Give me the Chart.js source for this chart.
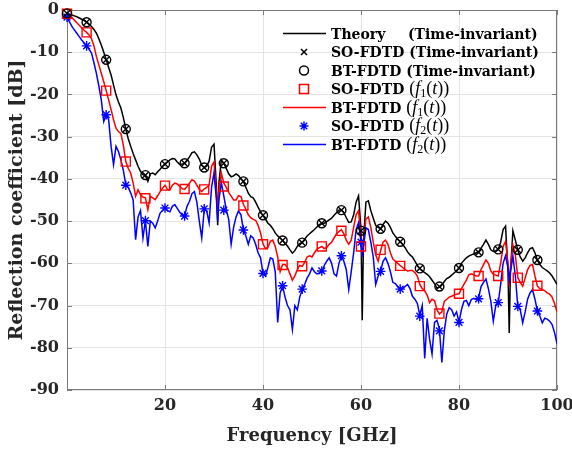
<!DOCTYPE html>
<html>
<head>
<meta charset="utf-8">
<script src="https://cdn.jsdelivr.net/npm/chart.js@4.4.1/dist/chart.umd.min.js"></script>
<style>
  html, body { margin: 0; padding: 0; background: #fff; }
</style>
</head>
<body>
<canvas id="chart" width="572" height="455"></canvas>
<script>
// frequency grid [GHz], extra points around the narrow notches
const freq = [
  0,0.5,1,1.5,2,2.5,3,3.5,4,4.5,5,5.5,6,6.5,7,7.5,8,8.5,9,9.5,
  10,10.5,11,11.5,12,12.5,13,13.5,14,14.5,15,15.5,16,16.5,17,17.5,18,18.5,19,19.5,
  20,20.5,21,21.5,22,22.5,23,23.5,24,24.5,25,25.5,26,26.5,27,27.5,28,28.5,29,29.5,
  30,30.5,30.75,31,31.5,32,32.5,33,33.5,34,34.5,35,35.5,36,36.5,37,37.5,38,38.5,39,39.5,
  40,40.5,41,41.5,42,42.5,43,43.5,44,44.5,45,45.5,46,46.5,47,47.5,48,48.5,49,49.5,
  50,50.5,51,51.5,52,52.5,53,53.5,54,54.5,55,55.5,56,56.5,57,57.5,58,58.5,59,59.5,
  60,60.25,60.5,61,61.5,62,62.5,63,63.5,64,64.5,65,65.5,66,66.5,67,67.5,68,68.5,69,69.5,
  70,70.5,71,71.5,72,72.5,73,73.5,74,74.5,75,75.5,76,76.5,77,77.5,78,78.5,79,79.5,
  80,80.5,81,81.5,82,82.5,83,83.5,84,84.5,85,85.5,86,86.5,87,87.5,88,88.5,89,89.5,
  90,90.25,90.5,91,91.5,92,92.5,93,93.5,94,94.5,95,95.5,96,96.5,97,97.5,98,98.5,99,99.5,
  100
];

// Theory (time-invariant) [dB]
const theory = [
  -0.8,-1.0,-1.2,-1.4,-1.6,-1.9,-2.2,-2.5,-2.8,-3.3,-3.9,-4.6,-5.5,-6.8,-8.3,-10,-11.8,-13.6,-15.4,-17.8,
  -20.1,-21.8,-23.2,-25.5,-28.2,-30.5,-32.3,-34,-35.5,-37,-38.2,-39,-39.3,-40.6,-38.8,-38.6,-39,-38.3,-37.7,-37,
  -36.5,-36,-35.5,-35.2,-35.3,-36,-36.6,-36.5,-36.3,-35.6,-34.8,-33.8,-33.6,-34.3,-35.3,-36.8,-37.3,-37,-35.8,-32.5,
  -31.8,-42,-51,-41,-35.5,-36.3,-37.5,-38.8,-39.5,-39.3,-38.8,-39.2,-40,-40.6,-42,-43.4,-44.2,-44.5,-45.5,-46.7,-47.8,
  -48.7,-49.5,-50.5,-51,-51.8,-52.8,-53.5,-54,-54.6,-55.3,-55.9,-56.8,-57.6,-57,-56,-55.3,-55,-54.3,-53.5,-53,
  -52.5,-52,-51.4,-50.8,-50.6,-50.5,-50.1,-49.7,-49.3,-48.6,-48,-47.4,-47.3,-48,-49.2,-50.3,-50.2,-48.5,-45.5,-44,
  -52,-73.5,-55,-45.5,-45.2,-47.5,-49.3,-51,-51.5,-51.8,-50.8,-50,-50.5,-51.5,-52.8,-53.6,-54.3,-54.9,-55.5,-56.3,-57.3,
  -58,-58.5,-59.5,-60.5,-61.3,-61.8,-62.2,-62.6,-63.2,-64,-64.8,-65.8,-65.7,-65.2,-64.3,-63.6,-63.3,-62.8,-62.3,-61.8,
  -61.2,-60,-59.3,-58.7,-58.3,-58,-57.8,-57.5,-57.3,-56.4,-55.5,-54.5,-55.5,-56.8,-57.2,-57,-56.7,-55,-52,-51.2,
  -62,-76.5,-62,-52.3,-54.5,-56.9,-58.5,-59.5,-58.7,-57.5,-56.5,-56.3,-57.5,-59.3,-60.3,-61,-61.4,-61.8,-62.3,-63,-64,
  -65
];

// BT-FDTD f1(t) [dB]
const btF1 = [
  -0.9,-1.3,-1.8,-2.4,-3,-3.6,-4.2,-4.8,-5.3,-5.9,-6.8,-8.5,-11,-13,-15,-17,-19.1,-21.3,-23.6,-26,
  -28,-28.8,-29.3,-32,-35.9,-37.5,-38.6,-41,-44.1,-42.6,-43.7,-44.3,-44.5,-47.3,-44.1,-44.5,-44.9,-44,-43,-42.2,
  -41.5,-42.5,-42.6,-41.5,-41,-41.2,-41.8,-42.3,-42.5,-41.8,-41,-40.2,-40.5,-41.5,-42.5,-43,-42.4,-42,-41.5,-37,
  -36,-44,-48,-43,-38.6,-41,-42,-43.2,-44.1,-45,-45,-44,-44.2,-46,-47.2,-48.5,-49.2,-49.6,-49.8,-51,-52.8,
  -55.4,-56.5,-56.2,-54.8,-54.5,-56,-58.5,-62,-60.3,-60.3,-61,-62.5,-64,-63,-61.5,-60.5,-60.7,-59.8,-58.5,-58.2,
  -58.5,-57.5,-56.7,-56.3,-56,-56.5,-56.3,-55.5,-55,-54,-53,-52.5,-52,-53,-54.5,-55.5,-54.5,-51.5,-48.5,-47.5,
  -54,-58.5,-55,-49.5,-49,-51.5,-55,-58,-59.5,-57,-55,-54.5,-55.5,-57.5,-59,-59.5,-60,-60.5,-61,-61.5,-61.8,
  -61.7,-61.7,-62.2,-63,-65,-66,-66.5,-67.5,-69.3,-68.5,-68.8,-71,-72,-71.5,-69,-68.5,-68,-67.8,-67.5,-67.3,
  -67.2,-66,-65,-64,-62.7,-62.5,-62.7,-63,-63,-61.5,-60.3,-59.2,-60,-61.8,-62.6,-62.8,-63,-60,-56,-54.8,
  -60,-65.4,-61,-55.6,-58,-63.4,-64.5,-65.4,-63.5,-61.5,-60.5,-60.3,-63,-65.4,-66,-66.2,-66.5,-67,-67.3,-68,-69.5,
  -71.5
];

// BT-FDTD f2(t) [dB]
const btF2 = [
  -1.7,-2.8,-3.9,-4.7,-5.5,-6.3,-7.1,-7.8,-8.5,-9.3,-10.2,-12.5,-15,-18,-21.3,-26.4,-24.8,-26,-32.3,-36.6,
  -32.3,-33.5,-35.5,-38,-41.4,-42,-43.3,-45,-54.4,-49,-47.5,-54,-49.9,-56,-50,-50.5,-51.6,-50,-48.1,-47.5,
  -46.9,-47.5,-47.8,-46.5,-46.1,-47,-47.9,-48.5,-48.7,-46.5,-45.3,-43.5,-43,-45.5,-50,-54,-47.3,-47.5,-50.4,-42,
  -38.6,-45,-50,-45,-40.9,-44,-47.3,-49.6,-55.5,-51.5,-49,-47.6,-48.5,-52,-53.5,-55.5,-53.5,-54,-55.5,-57.5,-58.7,
  -62.4,-63,-61,-58.7,-59,-62,-74,-67,-65.4,-68,-70,-71,-75.7,-70,-71,-68,-66.2,-65,-63.5,-62.5,
  -61.1,-62,-62.5,-62.3,-62.1,-60.5,-59.5,-58.7,-60,-62.5,-63,-60,-58.3,-59.5,-61.5,-66.2,-62,-57.5,-52,-50.4,
  -55,-58.5,-56,-51.6,-52,-55,-58.5,-65,-63,-61.9,-59.5,-58.7,-60,-62,-64.5,-64.8,-65.5,-66.2,-66,-65.5,-65,
  -66,-67.8,-68.5,-69.5,-72.3,-70,-82.5,-73,-78,-81.5,-74,-73.5,-75.5,-83.5,-76,-72,-70.5,-71,-72.5,-71.5,
  -73.9,-71,-69,-68.8,-70,-68.6,-68.3,-68.5,-68.2,-65.5,-64.5,-63.7,-66,-69,-73.7,-70,-69.4,-65,-60,-58.2,
  -61,-64,-62,-58.3,-63,-70.3,-71,-74.1,-71.5,-68.5,-67,-66.2,-68.5,-71.3,-72.5,-74.1,-73,-73.2,-73.7,-74.5,-76.4,
  -79
];

// marker samples (every 4 GHz)
const markerFreq = [0,4,8,12,16,20,24,28,32,36,40,44,48,52,56,60,64,68,72,76,80,84,88,92,96];
const soInvariant = [-0.8,-2.9,-11.8,-28.2,-39.1,-36.5,-36.3,-37.3,-36.3,-40.6,-48.6,-54.6,-55.1,-50.5,-47.4,-52.3,-51.8,-54.9,-61.2,-65.5,-61.1,-57.4,-56.7,-56.8,-59.2];
const btInvariant = [-0.8,-2.9,-11.8,-28.2,-39.1,-36.5,-36.3,-37.3,-36.3,-40.6,-48.6,-54.6,-55.1,-50.5,-47.4,-52.3,-51.8,-54.9,-61.2,-65.5,-61.1,-57.4,-56.7,-56.8,-59.2];
const soF1 = [-0.9,-5.3,-19.1,-35.9,-44.6,-41.6,-42.4,-42.5,-41.8,-46.3,-55.5,-60.4,-60.7,-56.0,-52.3,-56.0,-56.8,-60.6,-65.4,-71.9,-67.2,-63.0,-63.0,-63.4,-65.3];
const soF2 = [-1.7,-8.5,-24.8,-41.5,-49.9,-46.9,-48.8,-47.1,-47.4,-52.1,-62.4,-65.3,-66.1,-61.8,-58.2,-55.0,-61.9,-66.1,-72.5,-76.0,-74.0,-68.4,-69.3,-70.2,-71.3];

const xTickValues = [20, 40, 60, 80, 100];
const yTickValues = [0, -10, -20, -30, -40, -50, -60, -70, -80, -90];

const pts = (xs, ys) => xs.map((x, i) => ({ x: x, y: ys[i] }));

const BLACK = '#000000', RED = '#ff0000', BLUE = '#0000ff';
const tickFont = { family: '"DejaVu Serif"', size: 16, weight: 'bold' };

// axes box with inward ticks (drawn under the data, like MATLAB)
const framePlugin = {
  id: 'frame',
  beforeDatasetsDraw(chart) {
    const { ctx, chartArea: a, scales: { x, y } } = chart;
    ctx.save();
    ctx.strokeStyle = '#7a7a7a';
    ctx.lineWidth = 1;
    ctx.strokeRect(a.left + 0.5, a.top + 0.5, a.right - a.left - 1, a.bottom - a.top - 1);
    ctx.beginPath();
    xTickValues.forEach(v => {
      const px = Math.round(x.getPixelForValue(v)) + 0.5;
      ctx.moveTo(px, a.bottom); ctx.lineTo(px, a.bottom - 5);
      ctx.moveTo(px, a.top); ctx.lineTo(px, a.top + 5);
    });
    yTickValues.forEach(v => {
      const py = Math.round(y.getPixelForValue(v)) + 0.5;
      ctx.moveTo(a.left, py); ctx.lineTo(a.left + 5, py);
      ctx.moveTo(a.right, py); ctx.lineTo(a.right - 5, py);
    });
    ctx.stroke();
    ctx.restore();
  }
};

// legend with mixed bold / math-italic text
const bold = 'bold 14px "DejaVu Serif"';
const rom = '18px "Liberation Serif"';
const ital = 'italic 18px "Liberation Serif"';
const sub = '12px "Liberation Serif"';
const mathPart = n => [
  { t: '(', f: rom }, { t: 'f', f: ital }, { t: String(n), f: sub, dy: 3 },
  { t: '(', f: rom }, { t: 't', f: ital }, { t: '))', f: rom }
];
const legendItems = [
  { sym: 'line', color: BLACK, parts: [{ t: 'Theory', f: bold }], extra: '(Time-invariant)' },
  { sym: 'cross', color: BLACK, parts: [{ t: 'SO-FDTD (Time-invariant)', f: bold }] },
  { sym: 'circle', color: BLACK, parts: [{ t: 'BT-FDTD (Time-invariant)', f: bold }] },
  { sym: 'square', color: RED, parts: [{ t: 'SO-FDTD ', f: bold }].concat(mathPart(1)) },
  { sym: 'line', color: RED, parts: [{ t: 'BT-FDTD ', f: bold }].concat(mathPart(1)) },
  { sym: 'star', color: BLUE, parts: [{ t: 'SO-FDTD ', f: bold }].concat(mathPart(2)) },
  { sym: 'line', color: BLUE, parts: [{ t: 'BT-FDTD ', f: bold }].concat(mathPart(2)) }
];

const legendPlugin = {
  id: 'fancyLegend',
  afterDraw(chart) {
    const ctx = chart.ctx;
    const symX = 304, textX = 331, y0 = 33.5, dy = 18.5;
    ctx.save();
    legendItems.forEach((it, i) => {
      const y = y0 + i * dy;
      ctx.strokeStyle = it.color;
      ctx.lineWidth = 1.5;
      ctx.beginPath();
      if (it.sym === 'line') {
        ctx.moveTo(283, y); ctx.lineTo(326, y);
      } else if (it.sym === 'cross') {
        ctx.moveTo(symX - 3, y - 3); ctx.lineTo(symX + 3, y + 3);
        ctx.moveTo(symX - 3, y + 3); ctx.lineTo(symX + 3, y - 3);
      } else if (it.sym === 'circle') {
        ctx.arc(symX, y, 4.5, 0, Math.PI * 2);
      } else if (it.sym === 'square') {
        ctx.rect(symX - 4.5, y - 4.5, 9, 9);
      } else if (it.sym === 'star') {
        for (let k = 0; k < 4; k++) {
          const ang = k * Math.PI / 4;
          ctx.moveTo(symX - 4.5 * Math.cos(ang), y - 4.5 * Math.sin(ang));
          ctx.lineTo(symX + 4.5 * Math.cos(ang), y + 4.5 * Math.sin(ang));
        }
      }
      ctx.stroke();

      ctx.fillStyle = '#000';
      ctx.textBaseline = 'alphabetic';
      let x = textX;
      it.parts.forEach(p => {
        ctx.font = p.f;
        ctx.fillText(p.t, x, y + 5 + (p.dy || 0));
        x += ctx.measureText(p.t).width;
      });
      if (it.extra) {
        ctx.font = bold;
        ctx.fillText(it.extra, 408, y + 5);
      }
    });
    ctx.restore();
  }
};

new Chart(document.getElementById('chart'), {
  type: 'line',
  data: {
    datasets: [
      { label: 'SO-FDTD (Time-invariant)', data: pts(markerFreq, soInvariant), showLine: false,
        pointStyle: 'crossRot', pointRadius: 4.5, borderColor: BLACK, borderWidth: 1.4,
        backgroundColor: 'transparent', clip: false, order: 0 },
      { label: 'BT-FDTD (Time-invariant)', data: pts(markerFreq, btInvariant), showLine: false,
        pointStyle: 'circle', pointRadius: 4.5, borderColor: BLACK, borderWidth: 1.4,
        backgroundColor: 'transparent', clip: false, order: 0 },
      { label: 'SO-FDTD f1', data: pts(markerFreq, soF1), showLine: false,
        pointStyle: 'rect', pointRadius: 6.4, borderColor: RED, borderWidth: 1.4,
        backgroundColor: 'transparent', clip: false, order: 0 },
      { label: 'SO-FDTD f2', data: pts(markerFreq, soF2), showLine: false,
        pointStyle: 'star', pointRadius: 4.8, borderColor: BLUE, borderWidth: 1.4,
        backgroundColor: 'transparent', clip: false, order: 0 },
      { label: 'BT-FDTD f2', data: pts(freq, btF2), borderColor: BLUE, borderWidth: 1.5,
        pointRadius: 0, tension: 0, order: 1 },
      { label: 'BT-FDTD f1', data: pts(freq, btF1), borderColor: RED, borderWidth: 1.5,
        pointRadius: 0, tension: 0, order: 2 },
      { label: 'Theory', data: pts(freq, theory), borderColor: BLACK, borderWidth: 1.5,
        pointRadius: 0, tension: 0, order: 3 }
    ]
  },
  options: {
    responsive: false,
    animation: false,
    events: [],
    layout: { padding: { top: 10, right: 15, bottom: 0, left: 0 } },
    plugins: { legend: { display: false }, tooltip: { enabled: false } },
    scales: {
      x: {
        type: 'linear', min: 0, max: 100,
        afterBuildTicks: s => { s.ticks = xTickValues.map(v => ({ value: v })); },
        afterFit: s => { s.height = 65; s.paddingLeft = 0; s.paddingRight = 0; },
        grid: { color: '#e4e4e4', lineWidth: 1, drawTicks: false },
        border: { display: false },
        ticks: { font: tickFont, color: '#262626', padding: 6, maxRotation: 0, autoSkip: false },
        title: { display: true, text: 'Frequency [GHz]', color: '#262626',
          font: { family: '"DejaVu Serif"', size: 18, weight: 'bold' },
          padding: { top: 0, bottom: 8 } }
      },
      y: {
        type: 'linear', min: -90, max: 0,
        afterBuildTicks: s => { s.ticks = yTickValues.map(v => ({ value: v })); },
        afterFit: s => { s.width = 67; s.paddingTop = 0; s.paddingBottom = 0; },
        grid: { color: '#e4e4e4', lineWidth: 1, drawTicks: false },
        border: { display: false },
        ticks: { font: tickFont, color: '#262626', padding: 8 },
        title: { display: true, text: 'Reflection coefficient [dB]', color: '#262626',
          font: { family: '"DejaVu Serif"', size: 19, weight: 'bold' },
          padding: { top: 6, bottom: 0 } }
      }
    }
  },
  plugins: [framePlugin, legendPlugin]
});
</script>
</body>
</html>
